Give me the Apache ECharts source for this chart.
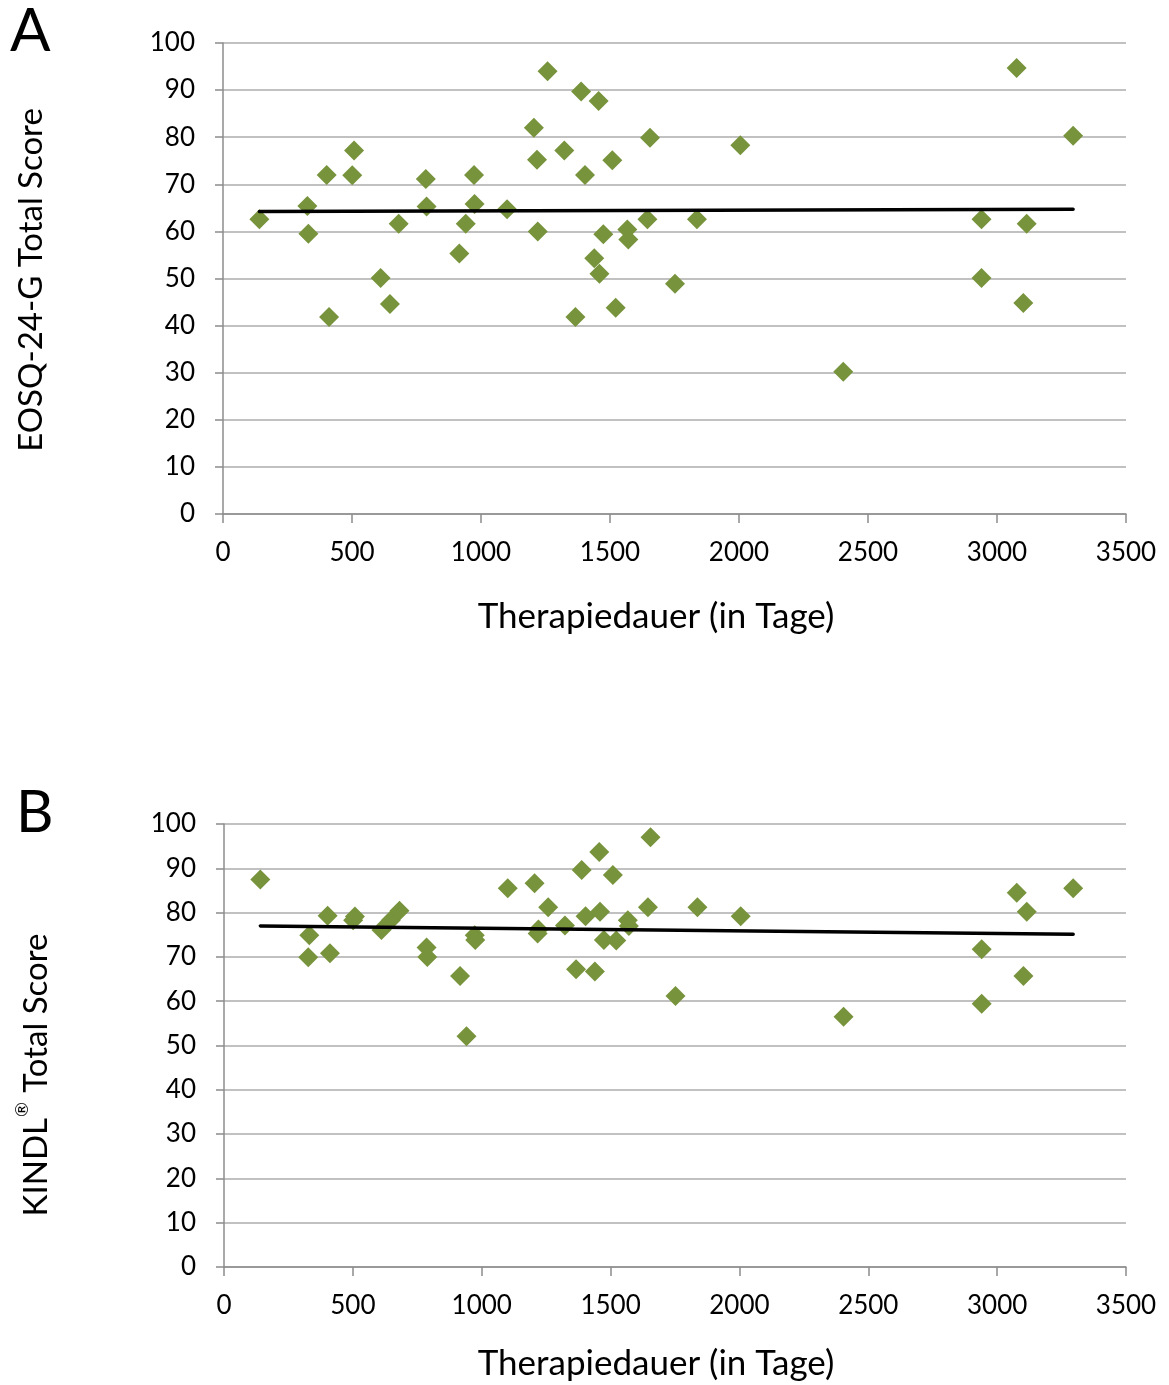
<!DOCTYPE html>
<html>
<head>
<meta charset="utf-8">
<script src="https://cdn.jsdelivr.net/npm/echarts@6/dist/echarts.min.js"></script>
<style>
  html, body { margin: 0; padding: 0; background: #fff; }
  #chart { width: 1169px; height: 1385px; }
</style>
</head>
<body>
<div id="chart"></div>
<script>
// Therapy duration (days) for each patient
const days = [141, 327, 331, 402, 411, 508, 501, 611, 647, 681, 786, 789, 916, 941, 973, 975, 1101,
  1205, 1217, 1220, 1258, 1388, 1456, 1655, 2005, 1323, 1509, 1403, 1474, 1567, 1571, 1645, 1837,
  1439, 1459, 1752, 1522, 1366, 2404, 2940, 2940, 3076, 3115, 3102, 3295];
// EOSQ-24-G total scores (panel A)
const eosq = [62.6, 65.4, 59.5, 72.0, 41.8, 77.2, 71.9, 50.1, 44.6, 61.6, 71.1, 65.3, 55.3, 61.6, 72.0, 65.8, 64.7,
  82.0, 75.2, 60.0, 94.0, 89.7, 87.7, 79.9, 78.3, 77.2, 75.1, 72.0, 59.4, 60.4, 58.3, 62.6, 62.6,
  54.3, 51.0, 48.9, 43.8, 41.8, 30.2, 62.6, 50.1, 94.7, 61.6, 44.8, 80.3];
// KINDL total scores (panel B)
const kindl = [87.5, 69.9, 74.9, 79.3, 70.8, 79.1, 78.3, 76.1, 78.3, 80.4, 72.1, 70.0, 65.7, 52.1, 74.9, 73.8, 85.5,
  86.6, 75.3, 76.2, 81.2, 89.6, 93.7, 97.0, 79.2, 77.1, 88.5, 79.2, 73.8, 78.3, 77.0, 81.2, 81.2,
  66.7, 80.2, 61.2, 73.7, 67.2, 56.5, 71.7, 59.4, 84.5, 80.2, 65.7, 85.5];
// Linear trend line end points
const trendX = [141, 3295];
const trendA = [64.2, 64.7];
const trendB = [77.0, 75.1];
// Tick settings
const xTicks = { min: 0, max: 3500, interval: 500 };
const yTicks = { min: 0, max: 100, interval: 10 };

const FONT = 'Lato, "Open Sans", sans-serif';
const GREEN = '#77933C';
const pts = (ys) => days.map((d, i) => [d, ys[i]]);
const line = (ys) => trendX.map((x, i) => [x, ys[i]]);

function xAxis(gi) {
  return {
    gridIndex: gi, type: 'value', min: xTicks.min, max: xTicks.max, interval: xTicks.interval,
    axisLine: { show: true, lineStyle: { color: '#8C8C8C', width: 1.5 } },
    axisTick: { show: true, inside: false, length: 9, lineStyle: { color: '#8C8C8C', width: 1.5 } },
    splitLine: { show: false },
    axisLabel: { color: '#000', fontFamily: FONT, fontSize: 26, margin: 26, formatter: (v) => String(v) }
  };
}
function yAxis(gi) {
  return {
    gridIndex: gi, type: 'value', min: yTicks.min, max: yTicks.max, interval: yTicks.interval,
    axisLine: { show: true, lineStyle: { color: '#8C8C8C', width: 1.5 } },
    axisTick: { show: true, inside: false, length: 8, lineStyle: { color: '#8C8C8C', width: 1.5 } },
    splitLine: { show: true, lineStyle: { color: '#ADADAD', width: 1.5 } },
    axisLabel: { color: '#000', fontFamily: FONT, fontSize: 26, margin: 28, formatter: (v) => String(v) }
  };
}

const chart = echarts.init(document.getElementById('chart'), null, { renderer: 'canvas' });
chart.setOption({
  backgroundColor: '#fff',
  animation: false,
  grid: [
    { left: 223, top: 43, width: 903, height: 471, outerBoundsMode: 'none' },
    { left: 224, top: 824, width: 902, height: 443, outerBoundsMode: 'none' }
  ],
  xAxis: [xAxis(0), xAxis(1)],
  yAxis: [yAxis(0), yAxis(1)],
  series: [
    { type: 'scatter', xAxisIndex: 0, yAxisIndex: 0, data: pts(eosq), symbol: 'diamond', symbolSize: 20,
      itemStyle: { color: GREEN, opacity: 1 }, z: 3 },
    { type: 'line', xAxisIndex: 0, yAxisIndex: 0, data: line(trendA), symbol: 'none',
      lineStyle: { color: '#000', width: 3.5, cap: 'round' }, z: 4 },
    { type: 'scatter', xAxisIndex: 1, yAxisIndex: 1, data: pts(kindl), symbol: 'diamond', symbolSize: 20,
      itemStyle: { color: GREEN, opacity: 1 }, z: 3 },
    { type: 'line', xAxisIndex: 1, yAxisIndex: 1, data: line(trendB), symbol: 'none',
      lineStyle: { color: '#000', width: 3.5, cap: 'round' }, z: 4 }
  ],
  graphic: [
    { type: 'text', left: 10, top: 2, style: { text: 'A', fontFamily: FONT, fontSize: 60, fill: '#000' } },
    { type: 'text', left: 16, top: 784, style: { text: 'B', fontFamily: FONT, fontSize: 58, fill: '#000' } },
    { type: 'text', x: 656, y: 617, style: { text: 'Therapiedauer (in Tage)', fontFamily: FONT, fontSize: 35,
      fill: '#000', align: 'center', verticalAlign: 'middle' } },
    { type: 'text', x: 656, y: 1364, style: { text: 'Therapiedauer (in Tage)', fontFamily: FONT, fontSize: 35,
      fill: '#000', align: 'center', verticalAlign: 'middle' } },
    { type: 'text', x: 31, y: 280, rotation: Math.PI / 2, style: { text: 'EOSQ-24-G Total Score', fontFamily: FONT,
      fontSize: 33, fill: '#000', align: 'center', verticalAlign: 'middle' } },
    { type: 'text', x: 33, y: 1075, rotation: Math.PI / 2, style: {
      text: '{n|KINDL}{s|®}{n| Total Score}', fontFamily: FONT, fontSize: 33, fill: '#000',
      align: 'center', verticalAlign: 'middle',
      rich: {
        n: { fontFamily: FONT, fontSize: 33, fill: '#000', lineHeight: 40, verticalAlign: 'bottom' },
        s: { fontFamily: FONT, fontSize: 18, fill: '#000', lineHeight: 40, verticalAlign: 'top', padding: [0, 1, 0, 1] }
      } } }
  ]
});
</script>
</body>
</html>
